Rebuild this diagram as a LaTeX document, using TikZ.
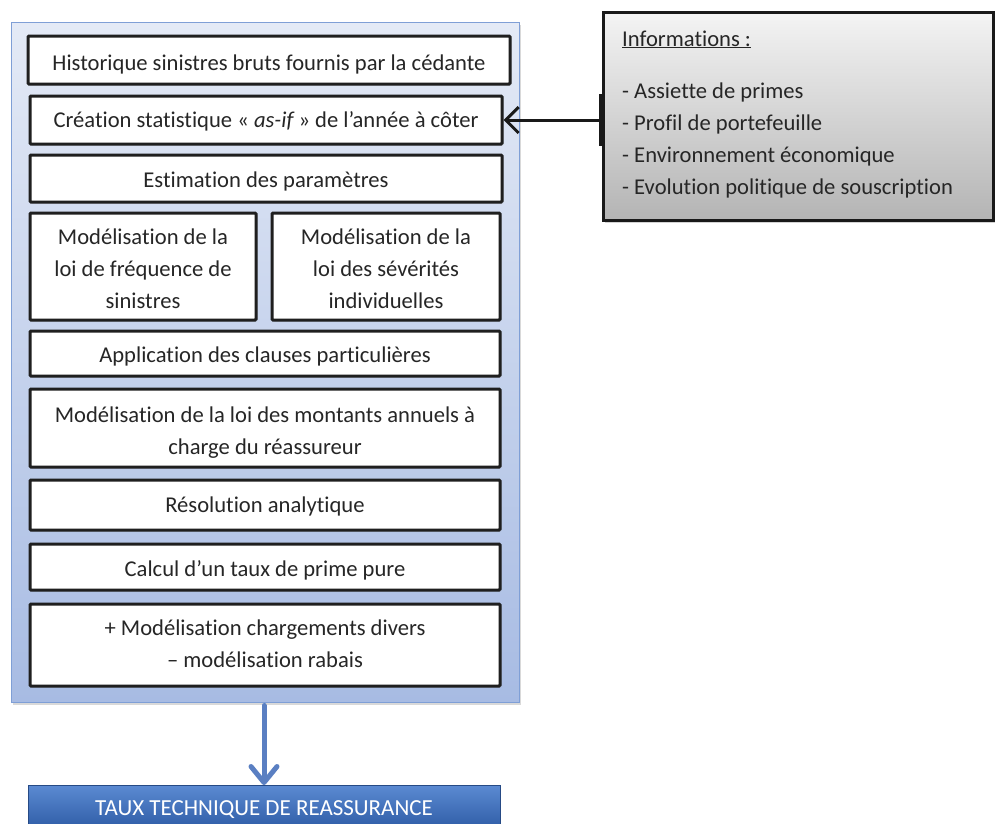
\documentclass[tikz,border=0pt]{standalone}
\usepackage{fontspec}
\setmainfont{Carlito}[Ligatures=NoCommon]
\usetikzlibrary{arrows.meta,shadows}

\definecolor{txt}{HTML}{262626}
\definecolor{panelTop}{HTML}{E4EAF6}
\definecolor{panelBot}{HTML}{A7BBE3}
\definecolor{panelEdge}{HTML}{7F9FD6}
\definecolor{infoTop}{HTML}{F4F4F4}
\definecolor{infoBot}{HTML}{B4B4B4}
\definecolor{flowBlue}{HTML}{5A7FC2}
\definecolor{barTop}{HTML}{5B8AD2}
\definecolor{barBot}{HTML}{2F5CA6}

% centred lines, drawn a little lower than the box centre without changing the box size
\newcommand\droptext[2]{\raisebox{-#1}[\height][\depth]{\begin{tabular}{@{}c@{}}#2\end{tabular}}}

\tikzset{
  stepbox/.style={draw=black!88, line width=3pt, fill=white, rounded corners=1pt,
    text=txt, align=center, font=\fontsize{22.6}{32}\selectfont,
    inner sep=0pt, drop shadow={opacity=0.25, shadow xshift=1.5pt, shadow yshift=-1.5pt}},
  panel/.style={draw=panelEdge, line width=1pt, top color=panelTop, bottom color=panelBot,
    drop shadow={opacity=0.3, shadow xshift=2pt, shadow yshift=-3pt}},
  infobox/.style={draw=black!90, line width=3pt, top color=infoTop, bottom color=infoBot,
    drop shadow={opacity=0.35, shadow xshift=2pt, shadow yshift=-3pt}},
  resultbar/.style={top color=barTop, bottom color=barBot, draw=barBot!80!black, line width=0.6pt,
    text=white, font=\fontsize{23}{26}\selectfont, inner sep=0pt},
}

\begin{document}
\begin{tikzpicture}[x=1pt, y=-1pt]
  \useasboundingbox (0,0) rectangle (995,823);

  % process panel
  \node[panel, minimum width=508pt, minimum height=680pt, inner sep=0pt] (panel) at (265,362) {};

  % steps of the pricing process
  \node[stepbox, minimum width=482pt, minimum height=48pt] (b1) at (269,60)
    {\droptext{4pt}{Historique sinistres bruts fournis par la cédante}};
  \node[stepbox, minimum width=472pt, minimum height=48pt] (b2) at (266,120)
    {\droptext{1pt}{Création statistique « {\itshape as-if} » de l’année à côter}};
  \node[stepbox, minimum width=472pt, minimum height=47pt] (b3) at (266,178.5)
    {\droptext{3pt}{Estimation des paramètres}};
  \node[stepbox, minimum width=226pt, minimum height=107pt] (b4a) at (143,266.5)
    {\droptext{4pt}{Modélisation de la\\loi de fréquence de\\sinistres}};
  \node[stepbox, minimum width=228pt, minimum height=107pt] (b4b) at (386,266.5)
    {\droptext{4pt}{Modélisation de la\\loi des sévérités\\individuelles}};
  \node[stepbox, minimum width=470pt, minimum height=45pt] (b5) at (265,353.5)
    {\droptext{3pt}{Application des clauses particulières}};
  \node[stepbox, minimum width=470pt, minimum height=78pt] (b6) at (265,428)
    {\droptext{4pt}{Modélisation de la loi des montants annuels à\\charge du réassureur}};
  \node[stepbox, minimum width=470pt, minimum height=50pt] (b7) at (265,505)
    {\droptext{1pt}{Résolution analytique}};
  \node[stepbox, minimum width=470pt, minimum height=46pt] (b8) at (265,567)
    {\droptext{3pt}{Calcul d’un taux de prime pure}};
  \node[stepbox, minimum width=470pt, minimum height=82pt] (b9) at (265,645)
    {\droptext{0.5pt}{+ Modélisation chargements divers\\– modélisation rabais}};

  % external information (base anchor of a multi-line node = last line's baseline)
  \node[infobox, minimum width=390pt, minimum height=208pt, inner sep=0pt] (info) at (798,116) {};
  \node[anchor=base west, align=left, text=txt, inner sep=0pt,
        font=\fontsize{22.6}{32}\selectfont] (infotext) at (622,194)
    {\underline{Informations :}\\[20pt]
     - Assiette de primes\\
     - Profil de portefeuille\\
     - Environnement économique\\
     - Evolution politique de souscription};

  % result
  \node[resultbar, minimum width=472pt, minimum height=44pt, anchor=north] (result) at (264,785)
    {\raisebox{-2pt}[\height][\depth]{TAUX TECHNIQUE DE REASSURANCE}};

  % connectors
  \draw[line width=3pt, black!90,
        {Bar[width=52pt, line width=6pt]}-{Straight Barb[length=13pt, width=26pt, line width=3pt]}]
    ([xshift=3pt]info.west |- b2.east) -- (b2.east);
  \draw[line width=5pt, flowBlue, line cap=round,
        -{Straight Barb[length=16pt, width=26pt, line width=5pt, round]}]
    (panel.south -| result.north) ++(0,3) -- (result.north);
\end{tikzpicture}
\end{document}
